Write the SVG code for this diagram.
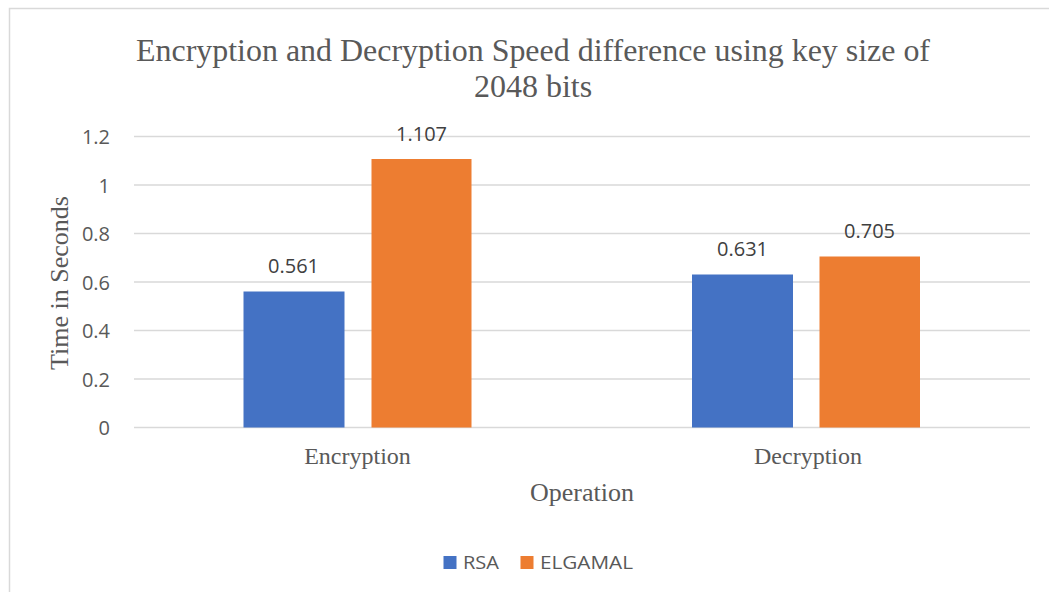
<svg xmlns="http://www.w3.org/2000/svg" width="1049" height="592" viewBox="0 0 1049 592">
<style>
.serif{font-family:"Liberation Serif","Times New Roman",serif;fill:#595959}
.sans{font-family:"Open Sans","Liberation Sans",sans-serif}
.tick{font-size:20px;fill:#595959;text-anchor:end}
.dl{font-size:20px;fill:#404040;text-anchor:middle}
.grid{stroke:#d9d9d9;stroke-width:1.5}
.rsa{fill:#4472C4}
.elg{fill:#ED7D31}
</style>
<rect x="0" y="0" width="1049" height="592" fill="#ffffff"/>
<path d="M9.5 592 V8.5 H1049" fill="none" stroke="#d9d9d9" stroke-width="1.5"/>
<g id="title">
<text class="serif" x="533" y="61" font-size="32" text-anchor="middle" textLength="794" lengthAdjust="spacingAndGlyphs">Encryption and Decryption Speed difference using key size of</text>
<text class="serif" x="533" y="97" font-size="32" text-anchor="middle">2048 bits</text>
</g>
<g id="gridlines">
<line class="grid" x1="134" y1="136.5" x2="1030" y2="136.5"/>
<line class="grid" x1="134" y1="185" x2="1030" y2="185"/>
<line class="grid" x1="134" y1="233.5" x2="1030" y2="233.5"/>
<line class="grid" x1="134" y1="282" x2="1030" y2="282"/>
<line class="grid" x1="134" y1="330.5" x2="1030" y2="330.5"/>
<line class="grid" x1="134" y1="379" x2="1030" y2="379"/>
<line class="grid" x1="134" y1="427.5" x2="1030" y2="427.5"/>
</g>
<g id="y-axis" class="sans">
<text class="tick" x="110" y="144">1.2</text>
<text class="tick" x="110" y="192.5">1</text>
<text class="tick" x="110" y="241">0.8</text>
<text class="tick" x="110" y="289.5">0.6</text>
<text class="tick" x="110" y="338">0.4</text>
<text class="tick" x="110" y="386.5">0.2</text>
<text class="tick" x="110" y="435">0</text>
<text class="serif" x="0" y="0" font-size="26" text-anchor="middle" transform="translate(68 283) rotate(-90)">Time in Seconds</text>
</g>
<g id="bars">
<rect id="enc-rsa" class="rsa" x="243.5" y="291.5" width="101" height="136"/>
<rect id="enc-elg" class="elg" x="371.5" y="159" width="100" height="268.5"/>
<rect id="dec-rsa" class="rsa" x="692" y="274.5" width="101" height="153"/>
<rect id="dec-elg" class="elg" x="819.5" y="256.5" width="100.5" height="171"/>
</g>
<g id="data-labels" class="sans">
<text class="dl" x="293.5" y="273">0.561</text>
<text class="dl" x="421.5" y="141">1.107</text>
<text class="dl" x="742.5" y="256">0.631</text>
<text class="dl" x="869.5" y="238">0.705</text>
</g>
<g id="x-axis">
<text class="serif" x="357.5" y="464" font-size="24" text-anchor="middle">Encryption</text>
<text class="serif" x="808" y="464" font-size="24" text-anchor="middle">Decryption</text>
<text class="serif" x="582" y="501" font-size="26" text-anchor="middle">Operation</text>
</g>
<g id="legend" class="sans">
<rect class="rsa" x="443.5" y="556" width="13" height="13"/>
<text x="463" y="569" font-size="18" fill="#595959" textLength="36" lengthAdjust="spacingAndGlyphs">RSA</text>
<rect class="elg" x="520.5" y="556" width="13" height="13"/>
<text x="540" y="569" font-size="18" fill="#595959" textLength="93" lengthAdjust="spacingAndGlyphs">ELGAMAL</text>
</g>
</svg>
